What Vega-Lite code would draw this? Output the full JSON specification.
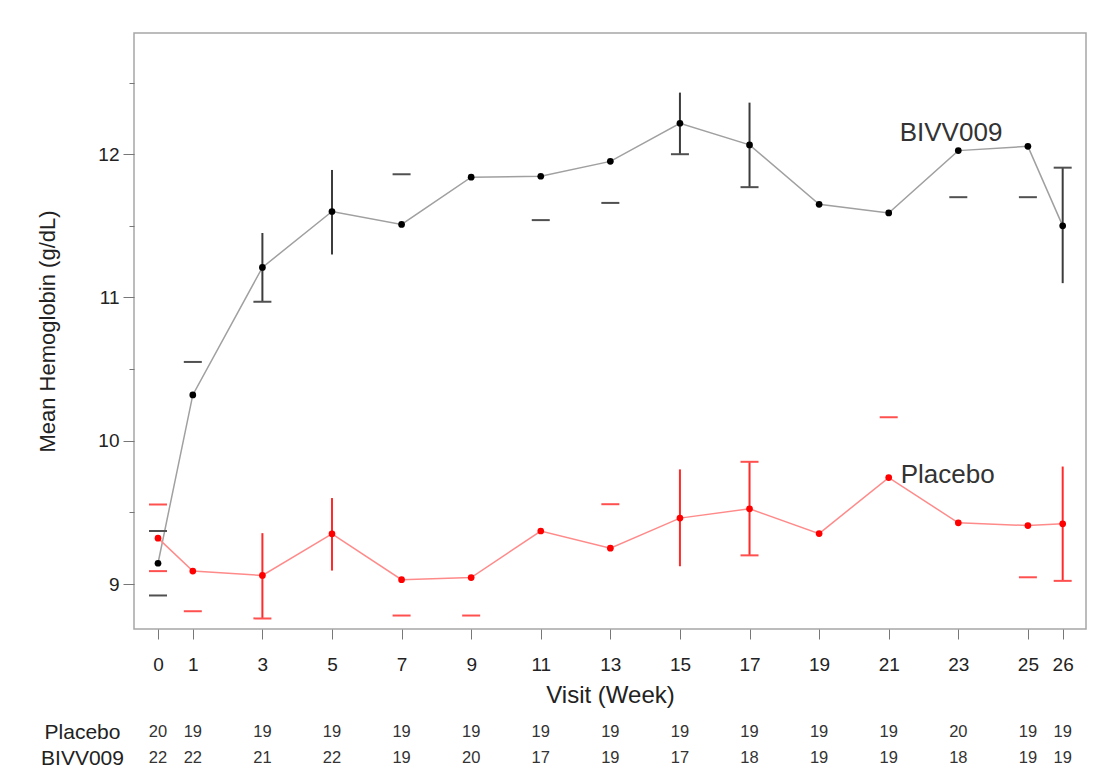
{
  "$schema": "https://vega.github.io/schema/vega-lite/v6.json",
  "background": "white",
  "padding": {"left": 36, "top": 32, "right": 0, "bottom": 0},
  "spacing": 11,
  "config": {
    "font": "Liberation Sans",
    "axis": {"labelColor": "#222", "titleColor": "#222", "titleFontWeight": "normal", "grid": false, "domain": false, "tickColor": "#777"}
  },
  "datasets": {
    "means": [
      {"series": "BIVV009", "week": 0, "mean": 9.145},
      {"series": "BIVV009", "week": 1, "mean": 10.32},
      {"series": "BIVV009", "week": 3, "mean": 11.21},
      {"series": "BIVV009", "week": 5, "mean": 11.60},
      {"series": "BIVV009", "week": 7, "mean": 11.51},
      {"series": "BIVV009", "week": 9, "mean": 11.84},
      {"series": "BIVV009", "week": 11, "mean": 11.846},
      {"series": "BIVV009", "week": 13, "mean": 11.95},
      {"series": "BIVV009", "week": 15, "mean": 12.216},
      {"series": "BIVV009", "week": 17, "mean": 12.065},
      {"series": "BIVV009", "week": 19, "mean": 11.65},
      {"series": "BIVV009", "week": 21, "mean": 11.59},
      {"series": "BIVV009", "week": 23, "mean": 12.025},
      {"series": "BIVV009", "week": 25, "mean": 12.055},
      {"series": "BIVV009", "week": 26, "mean": 11.50},
      {"series": "Placebo", "week": 0, "mean": 9.32},
      {"series": "Placebo", "week": 1, "mean": 9.09},
      {"series": "Placebo", "week": 3, "mean": 9.06},
      {"series": "Placebo", "week": 5, "mean": 9.35},
      {"series": "Placebo", "week": 7, "mean": 9.03},
      {"series": "Placebo", "week": 9, "mean": 9.045},
      {"series": "Placebo", "week": 11, "mean": 9.37},
      {"series": "Placebo", "week": 13, "mean": 9.25},
      {"series": "Placebo", "week": 15, "mean": 9.46},
      {"series": "Placebo", "week": 17, "mean": 9.525},
      {"series": "Placebo", "week": 19, "mean": 9.352},
      {"series": "Placebo", "week": 21, "mean": 9.743},
      {"series": "Placebo", "week": 23, "mean": 9.427},
      {"series": "Placebo", "week": 25, "mean": 9.408},
      {"series": "Placebo", "week": 26, "mean": 9.42}
    ],
    "bars": [
      {"series": "BIVV009", "week": 3, "lo": 10.97, "hi": 11.45},
      {"series": "BIVV009", "week": 5, "lo": 11.30, "hi": 11.89},
      {"series": "BIVV009", "week": 15, "lo": 12.00, "hi": 12.43},
      {"series": "BIVV009", "week": 17, "lo": 11.77, "hi": 12.36},
      {"series": "BIVV009", "week": 26, "lo": 11.10, "hi": 11.906},
      {"series": "Placebo", "week": 3, "lo": 8.76, "hi": 9.355},
      {"series": "Placebo", "week": 5, "lo": 9.094, "hi": 9.60},
      {"series": "Placebo", "week": 15, "lo": 9.124, "hi": 9.80},
      {"series": "Placebo", "week": 17, "lo": 9.20, "hi": 9.853},
      {"series": "Placebo", "week": 26, "lo": 9.022, "hi": 9.82}
    ],
    "caps": [
      {"series": "BIVV009", "week": 0, "value": 9.37},
      {"series": "BIVV009", "week": 0, "value": 8.92},
      {"series": "BIVV009", "week": 1, "value": 10.55},
      {"series": "BIVV009", "week": 3, "value": 10.97},
      {"series": "BIVV009", "week": 7, "value": 11.86},
      {"series": "BIVV009", "week": 11, "value": 11.54},
      {"series": "BIVV009", "week": 13, "value": 11.66},
      {"series": "BIVV009", "week": 15, "value": 12.00},
      {"series": "BIVV009", "week": 17, "value": 11.77},
      {"series": "BIVV009", "week": 23, "value": 11.70},
      {"series": "BIVV009", "week": 25, "value": 11.70},
      {"series": "BIVV009", "week": 26, "value": 11.906},
      {"series": "Placebo", "week": 0, "value": 9.555},
      {"series": "Placebo", "week": 0, "value": 9.09},
      {"series": "Placebo", "week": 1, "value": 8.81},
      {"series": "Placebo", "week": 3, "value": 8.76},
      {"series": "Placebo", "week": 7, "value": 8.78},
      {"series": "Placebo", "week": 9, "value": 8.78},
      {"series": "Placebo", "week": 13, "value": 9.557},
      {"series": "Placebo", "week": 17, "value": 9.853},
      {"series": "Placebo", "week": 17, "value": 9.20},
      {"series": "Placebo", "week": 21, "value": 10.164},
      {"series": "Placebo", "week": 25, "value": 9.047},
      {"series": "Placebo", "week": 26, "value": 9.022}
    ],
    "counts": [
      {"series": "Placebo", "week": 0, "n": 20},
      {"series": "Placebo", "week": 1, "n": 19},
      {"series": "Placebo", "week": 3, "n": 19},
      {"series": "Placebo", "week": 5, "n": 19},
      {"series": "Placebo", "week": 7, "n": 19},
      {"series": "Placebo", "week": 9, "n": 19},
      {"series": "Placebo", "week": 11, "n": 19},
      {"series": "Placebo", "week": 13, "n": 19},
      {"series": "Placebo", "week": 15, "n": 19},
      {"series": "Placebo", "week": 17, "n": 19},
      {"series": "Placebo", "week": 19, "n": 19},
      {"series": "Placebo", "week": 21, "n": 19},
      {"series": "Placebo", "week": 23, "n": 20},
      {"series": "Placebo", "week": 25, "n": 19},
      {"series": "Placebo", "week": 26, "n": 19},
      {"series": "BIVV009", "week": 0, "n": 22},
      {"series": "BIVV009", "week": 1, "n": 22},
      {"series": "BIVV009", "week": 3, "n": 21},
      {"series": "BIVV009", "week": 5, "n": 22},
      {"series": "BIVV009", "week": 7, "n": 19},
      {"series": "BIVV009", "week": 9, "n": 20},
      {"series": "BIVV009", "week": 11, "n": 17},
      {"series": "BIVV009", "week": 13, "n": 19},
      {"series": "BIVV009", "week": 15, "n": 17},
      {"series": "BIVV009", "week": 17, "n": 18},
      {"series": "BIVV009", "week": 19, "n": 19},
      {"series": "BIVV009", "week": 21, "n": 19},
      {"series": "BIVV009", "week": 23, "n": 18},
      {"series": "BIVV009", "week": 25, "n": 19},
      {"series": "BIVV009", "week": 26, "n": 19}
    ]
  },
  "vconcat": [
    {
      "width": 952,
      "height": 596,
      "view": {"stroke": "#a6a6a6", "strokeWidth": 1.5},
      "resolve": {"scale": {"color": "independent"}},
      "layer": [
        {
          "data": {"name": "means"},
          "mark": {"type": "line", "strokeWidth": 1.5},
          "encoding": {
            "x": {
              "field": "week", "type": "quantitative",
              "scale": {"domain": [-0.69, 26.67], "nice": false, "zero": false},
              "axis": {
                "values": [0, 1, 3, 5, 7, 9, 11, 13, 15, 17, 19, 21, 23, 25, 26],
                "tickSize": 10, "labelPadding": 16, "labelFontSize": 19,
                "title": "Visit (Week)", "titleFontSize": 24, "titlePadding": 9
              }
            },
            "y": {
              "field": "mean", "type": "quantitative",
              "scale": {"domain": [8.686, 12.846], "nice": false, "zero": false},
              "axis": {
                "values": [9, 9.5, 10, 10.5, 11, 11.5, 12, 12.5],
                "labelExpr": "datum.value % 1 === 0 ? format(datum.value, 'd') : ''",
                "tickSize": {"condition": {"test": "datum.value % 1 === 0", "value": 11}, "value": 5},
                "labelPadding": 4, "labelFontSize": 19,
                "title": "Mean Hemoglobin (g/dL)", "titleFontSize": 22, "titlePadding": 38
              }
            },
            "color": {"field": "series", "type": "nominal", "legend": null,
              "scale": {"domain": ["BIVV009", "Placebo"], "range": ["#a0a0a0", "#ff8a8a"]}}
          }
        },
        {
          "data": {"name": "bars"},
          "mark": {"type": "rule", "strokeWidth": 2},
          "encoding": {
            "x": {"field": "week", "type": "quantitative"},
            "y": {"field": "lo", "type": "quantitative"},
            "y2": {"field": "hi"},
            "color": {"field": "series", "type": "nominal", "legend": null,
              "scale": {"domain": ["BIVV009", "Placebo"], "range": ["#3c3c3c", "#ff2a2a"]}}
          }
        },
        {
          "data": {"name": "caps"},
          "mark": {"type": "tick", "orient": "horizontal", "size": 18, "thickness": 2, "opacity": 1},
          "encoding": {
            "x": {"field": "week", "type": "quantitative"},
            "y": {"field": "value", "type": "quantitative"},
            "color": {"field": "series", "type": "nominal", "legend": null,
              "scale": {"domain": ["BIVV009", "Placebo"], "range": ["#505050", "#ff5050"]}}
          }
        },
        {
          "data": {"name": "means"},
          "mark": {"type": "circle", "size": 45, "opacity": 1},
          "encoding": {
            "x": {"field": "week", "type": "quantitative"},
            "y": {"field": "mean", "type": "quantitative"},
            "color": {"field": "series", "type": "nominal", "legend": null,
              "scale": {"domain": ["BIVV009", "Placebo"], "range": ["#000000", "#ff0000"]}}
          }
        },
        {
          "data": {"name": "means"},
          "transform": [{"filter": "datum.week === 21 && datum.series === 'BIVV009'"}],
          "mark": {"type": "text", "align": "left", "baseline": "alphabetic", "dx": 11, "dy": -72, "fontSize": 26, "color": "#333"},
          "encoding": {
            "x": {"field": "week", "type": "quantitative"},
            "y": {"field": "mean", "type": "quantitative"},
            "text": {"field": "series"}
          }
        },
        {
          "data": {"name": "means"},
          "transform": [{"filter": "datum.week === 21 && datum.series === 'Placebo'"}],
          "mark": {"type": "text", "align": "left", "baseline": "alphabetic", "dx": 12, "dy": 5, "fontSize": 26, "color": "#333"},
          "encoding": {
            "x": {"field": "week", "type": "quantitative"},
            "y": {"field": "mean", "type": "quantitative"},
            "text": {"field": "series"}
          }
        }
      ]
    },
    {
      "width": 952,
      "height": 52,
      "view": {"stroke": null},
      "data": {"name": "counts"},
      "mark": {"type": "text", "fontSize": 16.5, "color": "#333", "baseline": "middle"},
      "encoding": {
        "x": {"field": "week", "type": "quantitative",
          "scale": {"domain": [-0.69, 26.67], "nice": false, "zero": false}, "axis": null},
        "y": {"field": "series", "type": "nominal",
          "scale": {"type": "point", "domain": ["Placebo", "BIVV009"], "padding": 0.5},
          "axis": {"title": null, "domain": false, "ticks": false, "labelFontSize": 21, "labelAlign": "center", "labelPadding": 52, "labelColor": "#222"}},
        "text": {"field": "n", "type": "quantitative"}
      }
    }
  ]
}
